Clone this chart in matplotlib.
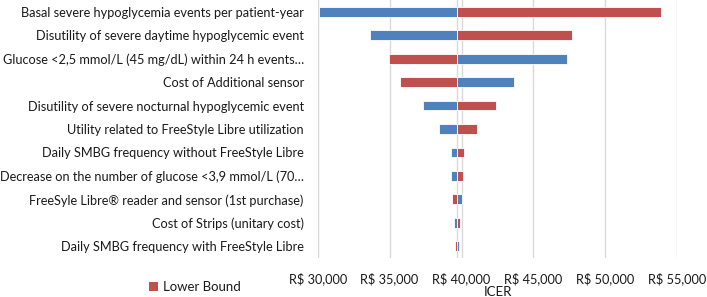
import matplotlib
matplotlib.use("Agg")
import matplotlib.pyplot as plt
from matplotlib.ticker import FuncFormatter
from matplotlib.patches import Patch

plt.rcParams['font.family'] = ['Lato', 'DejaVu Sans']

categories = [
    "Basal severe hypoglycemia events per patient-year",
    "Disutility of severe daytime hypoglycemic event",
    "Glucose <2,5 mmol/L (45 mg/dL) within 24 h events…",
    "Cost of Additional sensor",
    "Disutility of severe nocturnal hypoglycemic event",
    "Utility related to FreeStyle Libre utilization",
    "Daily SMBG frequency without FreeStyle Libre",
    "Decrease on the number of glucose <3,9 mmol/L (70…",
    "FreeSyle Libre® reader and sensor (1st purchase)",
    "Cost of Strips (unitary cost)",
    "Daily SMBG frequency with FreeStyle Libre",
]
base_icer = 39690
lower_bound = [53890, 47700, 34960, 35720, 42400, 41060, 40150, 40080, 39360, 39900, 39530]
upper_bound = [30110, 33640, 47360, 43670, 37350, 38440, 39250, 39270, 40010, 39480, 39850]
xticks = [30000, 35000, 40000, 45000, 50000, 55000]

blue = '#4F81BD'
red = '#C0504D'

fig = plt.figure(figsize=(7.07, 2.97), dpi=100)
ax = fig.add_axes([317.7/707, 1-258/297, (677.3-317.7)/707, 258/297])

y = list(range(len(categories)))
h = 0.42
ax.barh(y, [u - base_icer for u in upper_bound], left=base_icer, height=h,
        color=blue, edgecolor='white', linewidth=0.6, zorder=3)
ax.barh(y, [l - base_icer for l in lower_bound], left=base_icer, height=h,
        color=red, edgecolor='white', linewidth=0.6, zorder=3)

ax.axvline(base_icer, color='#D9D9D9', lw=1, zorder=2)
ax.set_xlim(30000, 55000)
ax.set_ylim(len(categories) - 0.5, -0.5)
ax.set_xticks(xticks)
ax.xaxis.set_major_formatter(FuncFormatter(lambda v, p: f"R$ {v:,.0f}"))
ax.set_yticks(y)
ax.set_yticklabels(categories)
ax.grid(axis='x', color='#D9D9D9', lw=1, zorder=0)
for s in ax.spines.values():
    s.set_visible(False)
ax.tick_params(axis='y', length=0, labelsize=9.2, colors='#1a1a1a', pad=10)
ax.tick_params(axis='x', length=0, labelsize=9.2, colors='#1a1a1a', pad=10)
ax.set_xlabel("ICER", fontsize=9.5, color='#1a1a1a', labelpad=1)

fig.legend(handles=[Patch(facecolor=red, label='Lower Bound')],
           loc='center left', bbox_to_anchor=(142/707, 1-287/297),
           frameon=False, fontsize=9.5, handlelength=0.7, handleheight=0.7,
           handletextpad=0.4, borderpad=0, labelcolor='#1a1a1a')

fig.savefig("out.png", dpi=100)
